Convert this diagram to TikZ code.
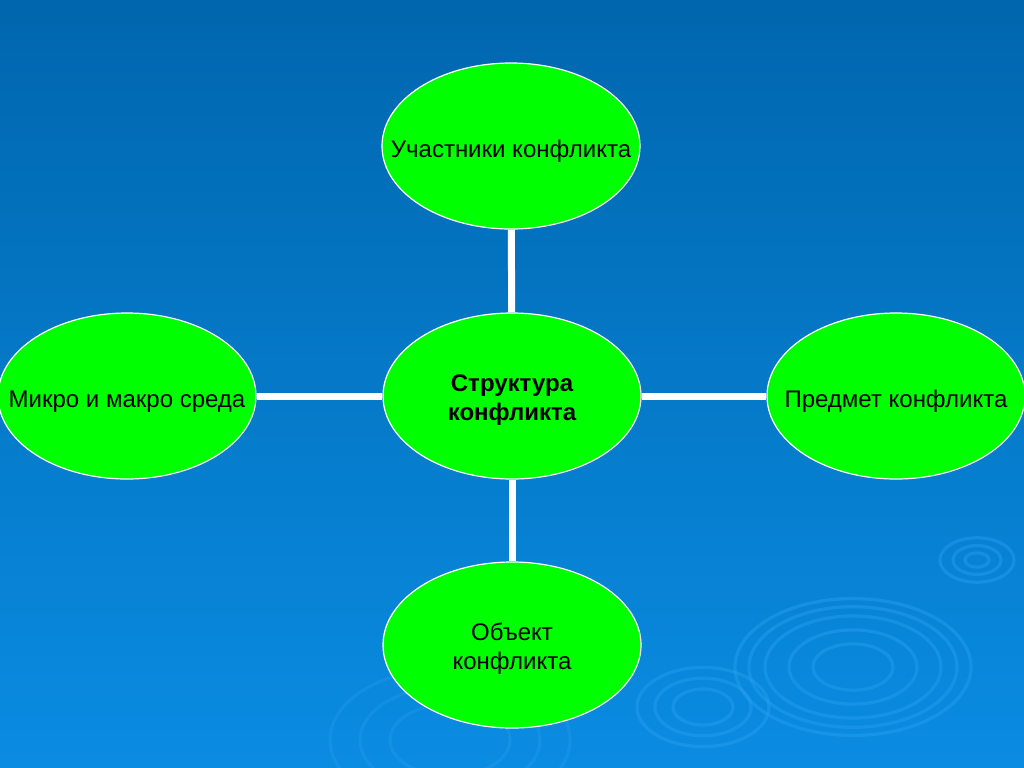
\documentclass[tikz,border=0pt]{standalone}
\usepackage{fontspec}
\setmainfont{Liberation Sans}
\usetikzlibrary{shapes.geometric}
\definecolor{bgtop}{RGB}{0,102,174}
\definecolor{bgbot}{RGB}{10,140,226}
\definecolor{ripple}{RGB}{40,160,240}
\definecolor{nodegreen}{RGB}{0,255,0}
\newcommand{\lowtext}[1]{\raisebox{-5.5pt}[0pt][0pt]{#1}}
\tikzset{
  part/.style={ellipse, draw=white, line width=0.6pt, fill=nodegreen,
    minimum width=129pt, minimum height=83pt, inner xsep=-45pt, inner ysep=0pt,
    align=center, font=\fontsize{12}{14.5}\selectfont},
  link/.style={draw=white, line width=3.5pt},
  wave/.style={draw=ripple, line width=1.6pt, opacity=0.45}
}

\begin{document}
\begin{tikzpicture}[x=0.5pt, y=-0.5pt]
    \useasboundingbox (0,0) rectangle (1024,767);
    \shade[top color=bgtop, bottom color=bgbot] (0,0) rectangle (1024,767);
    % ripples in the background
    \foreach \r in {12,24,37} {
        \draw[wave] (977,560) ellipse ({\r} and {0.6*\r});
    }
    \foreach \r in {40,64,88,104,118} {
        \draw[wave] (853,667) ellipse ({\r} and {0.58*\r});
    }
    \foreach \r in {30,48,66} {
        \draw[wave] (703,707) ellipse ({\r} and {0.6*\r});
    }
    \foreach \r in {60,90,120} {
        \draw[wave, opacity=0.3] (450,740) ellipse ({\r} and {0.6*\r});
    }

    \node[part, text height=27pt] (core) at (512,396) {\bfseries Структура\\\bfseries конфликта};
    \node[part] (actors) at (511,146) {\lowtext{Участники конфликта}};
    \node[part] (env) at (127,396) {\lowtext{Микро и макро среда}};
    \node[part] (subject) at (896,396) {\lowtext{Предмет конфликта}};
    \node[part, text height=27pt] (object) at (512,645) {Объект\\конфликта};
    \draw[link] (core) -- (actors);
    \draw[link] (core) -- (env);
    \draw[link] (core) -- (subject);
    \draw[link] (core) -- (object);
\end{tikzpicture}
\end{document}
